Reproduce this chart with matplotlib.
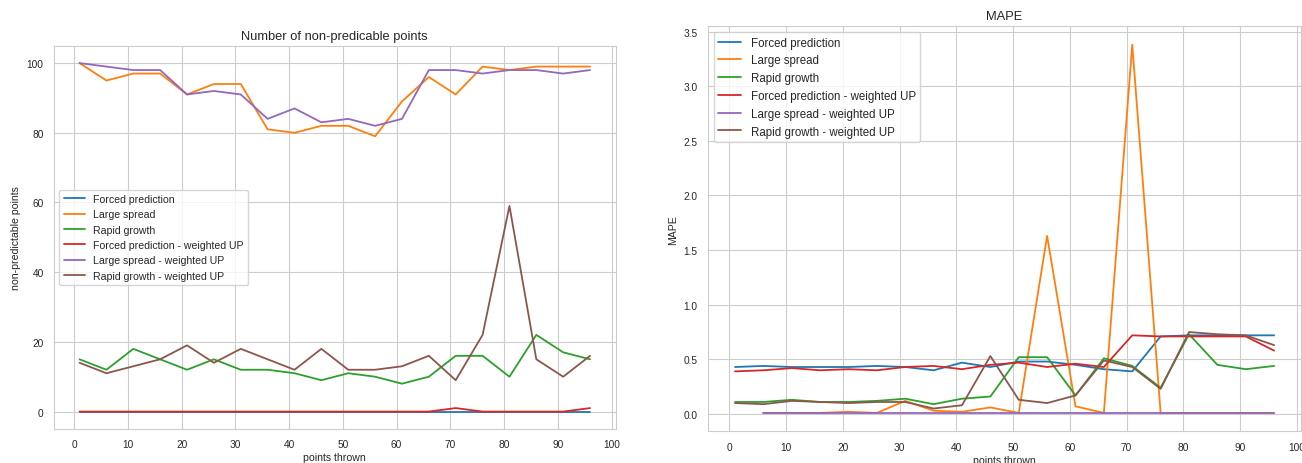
import numpy as np
import matplotlib.pyplot as plt
import seaborn as sns

sns.set_style("whitegrid")
plt.rcParams['font.family'] = ['Liberation Sans', 'DejaVu Sans']

x = list(range(1, 100, 5))
names = ['Forced prediction', 'Large spread', 'Rapid growth',
         'Forced prediction - weighted UP', 'Large spread - weighted UP',
         'Rapid growth - weighted UP']

# number of non-predictable points
np_forced = [0]*20
np_large = [100, 95, 97, 97, 91, 94, 94, 81, 80, 82, 82, 79, 89, 96, 91, 99, 98, 99, 99, 99]
np_rapid = [15, 12, 18, 15, 12, 15, 12, 12, 11, 9, 11, 10, 8, 10, 16, 16, 10, 22, 17, 15]
np_forced_w = [0, 0, 0, 0, 0, 0, 0, 0, 0, 0, 0, 0, 0, 0, 1, 0, 0, 0, 0, 1]
np_large_w = [100, 99, 98, 98, 91, 92, 91, 84, 87, 83, 84, 82, 84, 98, 98, 97, 98, 98, 97, 98]
np_rapid_w = [14, 11, 13, 15, 19, 14, 18, 15, 12, 18, 12, 12, 13, 16, 9, 22, 59, 15, 10, 16]

# MAPE
m_forced = [0.43, 0.44, 0.43, 0.43, 0.43, 0.44, 0.43, 0.40, 0.47, 0.43,
            0.48, 0.48, 0.45, 0.41, 0.39, 0.71, 0.72, 0.72, 0.72, 0.72]
m_large = [np.nan, 0.01, 0.01, 0.01, 0.02, 0.01, 0.12, 0.03, 0.02, 0.06,
           0.01, 1.63, 0.07, 0.01, 3.38, 0.01, 0.01, 0.01, 0.01, 0.01]
m_rapid = [0.11, 0.11, 0.13, 0.11, 0.11, 0.12, 0.14, 0.09, 0.14, 0.16,
           0.52, 0.52, 0.17, 0.51, 0.44, 0.24, 0.73, 0.45, 0.41, 0.44]
m_forced_w = [0.39, 0.40, 0.42, 0.40, 0.41, 0.40, 0.43, 0.44, 0.41, 0.45,
              0.47, 0.43, 0.46, 0.43, 0.72, 0.71, 0.71, 0.71, 0.71, 0.58]
m_large_w = [np.nan, 0.01, 0.01, 0.01, 0.01, 0.01, 0.01, 0.01, 0.01, 0.01,
             0.01, 0.01, 0.01, 0.01, 0.01, 0.01, 0.01, 0.01, 0.01, 0.01]
m_rapid_w = [0.10, 0.09, 0.12, 0.11, 0.10, 0.11, 0.11, 0.05, 0.08, 0.53,
             0.13, 0.10, 0.17, 0.49, 0.43, 0.23, 0.75, 0.73, 0.72, 0.63]

fig = plt.figure(figsize=(13.02, 4.64), dpi=100)
ax1 = fig.add_axes([0.0415, 0.0733, 0.4313, 0.8261])
ax2 = fig.add_axes([0.5438, 0.0683, 0.4555, 0.8728])

for s, lab in zip([np_forced, np_large, np_rapid, np_forced_w, np_large_w, np_rapid_w], names):
    ax1.plot(x, s, label=lab, lw=1.3)
for s, lab in zip([m_forced, m_large, m_rapid, m_forced_w, m_large_w, m_rapid_w], names):
    ax2.plot(x, s, label=lab, lw=1.3)

ax1.set_title('Number of non-predicable points', fontsize=9.3, pad=5)
ax1.set_xlabel('points thrown', fontsize=7.6, labelpad=2)
ax1.set_ylabel('non-predictable points', fontsize=7.6, labelpad=4)
ax1.legend(loc='center left', fontsize=7.6)

ax2.set_title('MAPE', fontsize=9.3, pad=5)
ax2.set_xlabel('points thrown', fontsize=7.6, labelpad=2)
ax2.set_ylabel('MAPE', fontsize=7.6, labelpad=4)
ax2.legend(loc='upper left', fontsize=8.3)

for ax in [ax1, ax2]:
    ax.set_xticks(range(0, 101, 10))
    ax.tick_params(labelsize=7.3, pad=4)

fig.savefig('out.png', dpi=100)
